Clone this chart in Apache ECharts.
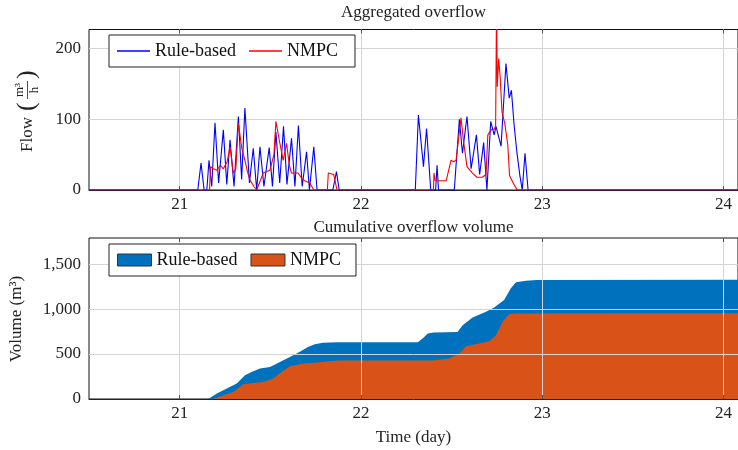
<!DOCTYPE html>
<html><head><meta charset="utf-8">
<script src="https://cdn.jsdelivr.net/npm/echarts@6/dist/echarts.min.js"></script>
<style>html,body{margin:0;padding:0;background:#fff}#c{width:738px;height:450px}</style>
</head><body><div id="c"></div>
<script>
// ---- data ----
const seriesNames = ['Rule-based', 'NMPC'];
const xTicks = [21, 22, 23, 24];
const flowTicks = [0, 100, 200];
const volTicks = [0, 500, 1000, 1500];

// Aggregated overflow (m3/h), rule-based
const flowRuleT = [20.5,21.10,21.118,21.135,21.150,21.162,21.177,21.195,21.215,21.241,21.260,21.278,21.300,21.324,21.342,21.360,21.385,21.406,21.425,21.443,21.465,21.494,21.512,21.531,21.552,21.573,21.592,21.617,21.636,21.655,21.676,21.700,21.716,21.740,21.758,21.845,21.865,21.880,22.300,22.317,22.345,22.362,22.385,22.412,22.420,22.428,22.515,22.543,22.560,22.585,22.608,22.637,22.655,22.677,22.695,22.716,22.735,22.745,22.773,22.800,22.818,22.830,22.845,22.860,22.877,22.890,22.905,22.922,24.08];
const flowRuleV = [0,0,38,0,0,42,5,95,10,85,8,71,5,104,15,116,10,59,0,61,5,60,5,82,10,90,8,73,5,91,5,54,0,61,0,0,26,0,0,106,33,87,0,0,35,0,0,100,52,104,30,78,22,67,0,97,78,90,62,179,130,141,92,54,20,0,52,0,0];
// Aggregated overflow (m3/h), NMPC
const flowNmpcT = [20.5,21.165,21.170,21.185,21.205,21.225,21.241,21.262,21.278,21.296,21.310,21.324,21.342,21.360,21.375,21.388,21.410,21.425,21.440,21.461,21.498,21.520,21.531,21.550,21.571,21.590,21.605,21.617,21.653,21.681,21.718,21.740,21.815,21.820,21.850,21.868,22.400,22.403,22.410,22.470,22.497,22.512,22.525,22.552,22.565,22.585,22.615,22.640,22.670,22.690,22.700,22.718,22.735,22.743,22.748,22.752,22.760,22.768,22.778,22.793,22.810,22.820,22.840,22.862,24.08];
const flowNmpcV = [0,0,33,30,28,35,30,40,61,24,30,95,60,42,25,14,5,0,10,24,28,50,97,70,42,66,35,24,24,14,10,0,0,24,22,0,0,24,13,13,42,40,42,102,71,33,24,18,18,22,78,85,86,90,260,146,186,160,110,95,64,20,10,0,0];

// Cumulative overflow volume (m3), rule-based
const volRuleT = [20.5,21.158,21.205,21.260,21.315,21.360,21.397,21.443,21.498,21.553,21.608,21.663,21.708,21.745,21.791,21.870,22.314,22.340,22.369,22.400,22.533,22.561,22.616,22.690,22.735,22.790,22.827,22.855,22.910,22.970,24.08];
const volRuleV = [0,0,60,116,171,264,301,338,356,412,468,524,579,609,624,630,630,673,728,740,746,821,907,969,1018,1100,1230,1297,1315,1322,1325];
// Cumulative overflow volume (m3), NMPC
const volNmpcT = [20.5,21.186,21.240,21.296,21.351,21.406,21.461,21.516,21.562,21.608,21.681,21.755,21.846,21.880,22.396,22.488,22.543,22.580,22.653,22.708,22.745,22.781,22.818,22.855,24.08];
const volNmpcV = [0,0,41,78,164,178,189,227,301,364,394,405,423,428,428,450,506,587,617,643,710,858,944,950,952];

// ---- chart ----
function zip(t, v) { return t.map((x, i) => [x, v[i]]); }
const FONT = 'Liberation Serif';
const TXT = '#222';
const X0 = 20.5, X1 = 24.08;
const chart = echarts.init(document.getElementById('c'), null, { renderer: 'canvas' });

function xBottom(gi, z) {
  return {
    type: 'value', gridIndex: gi, min: X0, max: X1, z: z,
    axisLine: { show: true, lineStyle: { color: '#222', width: 1 } },
    axisTick: { show: true, inside: true, length: 4, customValues: xTicks, lineStyle: { color: '#555' } },
    axisLabel: { customValues: xTicks, fontFamily: FONT, fontSize: 17, color: TXT, margin: 6 },
    splitLine: { show: true, lineStyle: { color: '#d4d4d4', width: 1 } }
  };
}
function xTop(gi, z) {
  return {
    type: 'value', gridIndex: gi, position: 'top', min: X0, max: X1, z: z,
    axisLine: { show: false },
    axisTick: { show: true, inside: true, length: 4, customValues: xTicks, lineStyle: { color: '#555' } },
    axisLabel: { show: false },
    splitLine: { show: false }
  };
}

const option = {
  animation: false,
  backgroundColor: '#fff',
  grid: [
    { left: 89, top: 29.5, width: 650, height: 160.5, show: true, borderColor: '#111', borderWidth: 1, backgroundColor: 'transparent' },
    { left: 89, top: 238, width: 650, height: 161, show: true, borderColor: '#111', borderWidth: 1, backgroundColor: 'transparent' }
  ],
  xAxis: [xBottom(0, 0), xBottom(1, 5), xTop(0, 0), xTop(1, 5)],
  yAxis: [
    {
      type: 'value', gridIndex: 0, min: 0, max: 227,
      axisLine: { show: false },
      axisTick: { show: false, customValues: flowTicks },
      axisLabel: { customValues: flowTicks, fontFamily: FONT, fontSize: 17, color: TXT, margin: 8 },
      splitLine: { show: true, lineStyle: { color: '#d4d4d4', width: 1 } }
    },
    {
      type: 'value', gridIndex: 1, min: 0, max: 1790, z: 5,
      axisLine: { show: false },
      axisTick: { show: false, customValues: volTicks },
      axisLabel: { customValues: volTicks, fontFamily: FONT, fontSize: 17, color: TXT, margin: 8,
        formatter: v => Number(v).toLocaleString('en-US') },
      splitLine: { show: true, lineStyle: { color: '#d4d4d4', width: 1 } }
    }
  ],
  legend: [
    {
      z: 20, left: 109, top: 35, orient: 'horizontal', icon: 'rect', itemWidth: 33, itemHeight: 1.5, itemGap: 13,
      padding: [7, 17, 7, 8], borderColor: '#222', borderWidth: 1, backgroundColor: '#fff',
      selectedMode: false, textStyle: { fontFamily: FONT, fontSize: 18, color: '#111' },
      data: [seriesNames[0], seriesNames[1]]
    },
    {
      z: 20, left: 109, top: 244, orient: 'horizontal', icon: 'rect', itemWidth: 34, itemHeight: 12, itemGap: 13,
      padding: [7, 15, 7, 8], borderColor: '#222', borderWidth: 1, backgroundColor: '#fff',
      selectedMode: false, textStyle: { fontFamily: FONT, fontSize: 18, color: '#111' },
      itemStyle: { borderColor: '#333', borderWidth: 1 },
      formatter: n => n.replace(' cumulative', ''),
      data: [seriesNames[0] + ' cumulative', seriesNames[1] + ' cumulative']
    }
  ],
  series: [
    { name: seriesNames[0], type: 'line', xAxisIndex: 0, yAxisIndex: 0, symbol: 'none', color: '#0000ff',
      lineStyle: { color: '#0000ff', width: 1.1 }, data: zip(flowRuleT, flowRuleV) },
    { name: seriesNames[1], type: 'line', xAxisIndex: 0, yAxisIndex: 0, symbol: 'none', color: '#ff0000',
      lineStyle: { color: '#ff0000', width: 1.1 }, data: zip(flowNmpcT, flowNmpcV) },
    { name: seriesNames[0] + ' cumulative', type: 'line', xAxisIndex: 1, yAxisIndex: 1, symbol: 'none', color: '#0072BD',
      lineStyle: { width: 0 }, areaStyle: { color: '#0072BD', opacity: 1 }, data: zip(volRuleT, volRuleV) },
    { name: seriesNames[1] + ' cumulative', type: 'line', xAxisIndex: 1, yAxisIndex: 1, symbol: 'none', color: '#D95319',
      lineStyle: { width: 0 }, areaStyle: { color: '#D95319', opacity: 1 }, data: zip(volNmpcT, volNmpcV) }
  ],
  graphic: [
    { type: 'text', style: { text: 'Aggregated overflow', x: 413.5, y: 13, align: 'center', verticalAlign: 'middle', font: '17px "Liberation Serif"', fill: TXT } },
    { type: 'text', style: { text: 'Cumulative overflow volume', x: 413.5, y: 228, align: 'center', verticalAlign: 'middle', font: '17px "Liberation Serif"', fill: TXT } },
    { type: 'text', style: { text: 'Time (day)', x: 413.5, y: 438, align: 'center', verticalAlign: 'middle', font: '17px "Liberation Serif"', fill: TXT } },
    { type: 'text', x: 17, y: 319, rotation: Math.PI / 2,
      style: { text: 'Volume (m³)', x: 0, y: 0, align: 'center', verticalAlign: 'middle', font: '17px "Liberation Serif"', fill: TXT } },
    { type: 'group', x: 27.5, y: 152, rotation: Math.PI / 2, children: [
      { type: 'text', style: { text: 'Flow', x: 0, y: 0, align: 'left', verticalAlign: 'middle', font: '17px "Liberation Serif"', fill: TXT } },
      { type: 'text', style: { text: '(', x: 41, y: 0, align: 'left', verticalAlign: 'middle', font: '26px "Liberation Serif"', fill: TXT } },
      { type: 'text', style: { text: 'm³', x: 62, y: -7.5, align: 'center', verticalAlign: 'middle', font: '13px "Liberation Serif"', fill: TXT } },
      { type: 'line', shape: { x1: 53, y1: 0, x2: 71, y2: 0 }, style: { stroke: TXT, lineWidth: 0.8 } },
      { type: 'text', style: { text: 'h', x: 62, y: 7.5, align: 'center', verticalAlign: 'middle', font: '13px "Liberation Serif"', fill: TXT } },
      { type: 'text', style: { text: ')', x: 73, y: 0, align: 'left', verticalAlign: 'middle', font: '26px "Liberation Serif"', fill: TXT } }
    ] }
  ]
};
chart.setOption(option);
</script>
</body></html>
